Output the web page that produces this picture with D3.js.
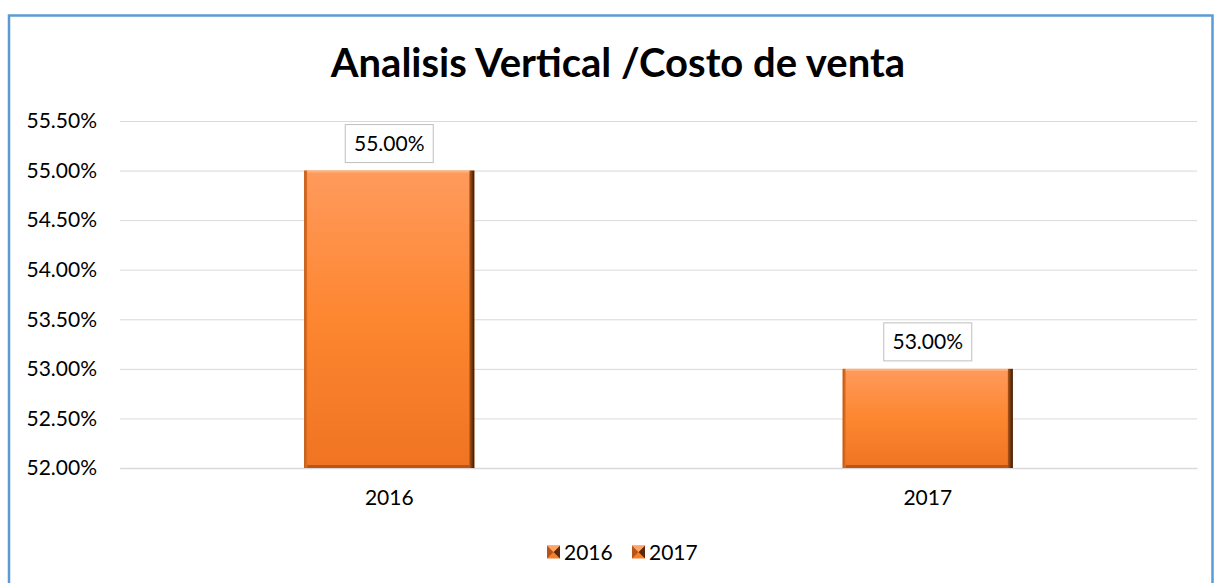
<!DOCTYPE html>
<html><head><meta charset="utf-8">
<script src="https://cdn.jsdelivr.net/npm/d3@7"></script>
<style>html,body{margin:0;padding:0;background:#fff;}svg{display:block;}</style>
</head><body>
<svg id="c" width="1214" height="583"></svg>
<script>
const categories = ["2016", "2017"];
const values = [0.55, 0.53];
const yTicks = [0.52, 0.525, 0.53, 0.535, 0.54, 0.545, 0.55, 0.555];
const legendLabels = ["2016", "2017"];
const titleText = "Analisis Vertical /Costo de venta";

(function(){
const font = "Lato, 'Open Sans', sans-serif";
const svg = d3.select("#c");
const defs = svg.append("defs");
const g1 = defs.append("linearGradient").attr("id","barg").attr("x1",0).attr("y1",0).attr("x2",0).attr("y2",1);
g1.append("stop").attr("offset","0%").attr("stop-color","#ff9a5c");
g1.append("stop").attr("offset","50%").attr("stop-color","#fd8630");
g1.append("stop").attr("offset","100%").attr("stop-color","#f07422");
const gR = defs.append("linearGradient").attr("id","edgeR").attr("x1",0).attr("y1",0).attr("x2",1).attr("y2",0);
gR.append("stop").attr("offset","0%").attr("stop-color","#b0561a");
gR.append("stop").attr("offset","100%").attr("stop-color","#3a1a05");
const gL = defs.append("linearGradient").attr("id","edgeL").attr("x1",0).attr("y1",0).attr("x2",1).attr("y2",0);
gL.append("stop").attr("offset","0%").attr("stop-color","#b65a1c");
gL.append("stop").attr("offset","100%").attr("stop-color","#e5701f");

svg.append("rect").attr("x",9).attr("y",15.5).attr("width",1203.5).attr("height",600)
  .attr("fill","none").attr("stroke","#5b9bd5").attr("stroke-width",2.5);

svg.append("text").attr("x",618).attr("y",77).attr("text-anchor","middle")
  .attr("font-family",font).attr("font-weight","bold").attr("font-size",40).attr("fill","#000")
  .text(titleText);

const pL = 120, pR = 1197, pT = 121, pB = 468;
const x = d3.scaleBand().domain(categories).range([pL, pR]).paddingInner(0.684).paddingOuter(0.342);
const y = d3.scaleLinear().domain([0.52, 0.555]).range([pB, pT]);
const fmt = d3.format(".2%");

const yAxis = d3.axisLeft(y).tickValues(yTicks).tickSize(-(pR-pL)).tickFormat(fmt);
const ga = svg.append("g").attr("transform",`translate(${pL},0)`).call(yAxis);
ga.select(".domain").remove();
ga.selectAll(".tick line").attr("stroke","#d9d9d9").attr("stroke-width",1);
ga.selectAll(".tick text").attr("x",-23).attr("font-family",font).attr("font-size",21).attr("fill","#000");

const xAxis = d3.axisBottom(x).tickSize(0).tickPadding(22);
const gx = svg.append("g").attr("transform",`translate(0,${pB})`).call(xAxis);
gx.select(".domain").attr("stroke","#d9d9d9").attr("stroke-width",1.5);
gx.selectAll(".tick text").attr("font-family",font).attr("font-size",21).attr("fill","#000");

const data = categories.map((c,i)=>({c,v:values[i]}));
const bars = svg.append("g").selectAll("g").data(data).join("g");
bars.append("rect").attr("x",d=>x(d.c)).attr("y",d=>y(d.v)).attr("width",x.bandwidth())
  .attr("height",d=>y(0.52)-y(d.v)).attr("fill","url(#barg)");
bars.append("rect").attr("x",d=>x(d.c)+x.bandwidth()-5).attr("y",d=>y(d.v)).attr("width",5)
  .attr("height",d=>y(0.52)-y(d.v)).attr("fill","url(#edgeR)");
bars.append("rect").attr("x",d=>x(d.c)).attr("y",d=>y(d.v)).attr("width",3)
  .attr("height",d=>y(0.52)-y(d.v)).attr("fill","url(#edgeL)");
bars.append("rect").attr("x",d=>x(d.c)+3).attr("y",d=>y(d.v)).attr("width",x.bandwidth()-8)
  .attr("height",2).attr("fill","#ffb07a");
bars.append("rect").attr("x",d=>x(d.c)+3).attr("y",d=>y(0.52)-3).attr("width",x.bandwidth()-8)
  .attr("height",3).attr("fill","#b8561a");

const lab = svg.append("g").selectAll("g").data(data).join("g")
  .attr("transform",d=>`translate(${x(d.c)+x.bandwidth()/2},${y(d.v)-27})`);
lab.append("rect").attr("x",-44).attr("y",-19).attr("width",88).attr("height",38)
  .attr("fill","#fff").attr("stroke","#bfbfbf").attr("stroke-width",1);
lab.append("text").attr("text-anchor","middle").attr("dy","0.36em").attr("font-family",font)
  .attr("font-size",21).attr("fill","#000").text(d=>fmt(d.v));

const lg = svg.append("g").selectAll("g").data(legendLabels).join("g")
  .attr("transform",(d,i)=>`translate(${547+i*85},552)`);
lg.append("rect").attr("x",0).attr("y",-6.5).attr("width",13).attr("height",13).attr("fill","#f5802a");
lg.append("path").attr("d","M0,-6.5 L6.5,0 L0,6.5Z").attr("fill","#b5551a");
lg.append("path").attr("d","M13,-6.5 L6.5,0 L13,6.5Z").attr("fill","#5a2a0a");
lg.append("path").attr("d","M0,-6.5 L13,-6.5 L6.5,0Z").attr("fill","#ffa468");
lg.append("text").attr("x",17).attr("dy","0.36em").attr("font-family",font).attr("font-size",21)
  .attr("fill","#000").text(d=>d);
})();
</script>
</body></html>
